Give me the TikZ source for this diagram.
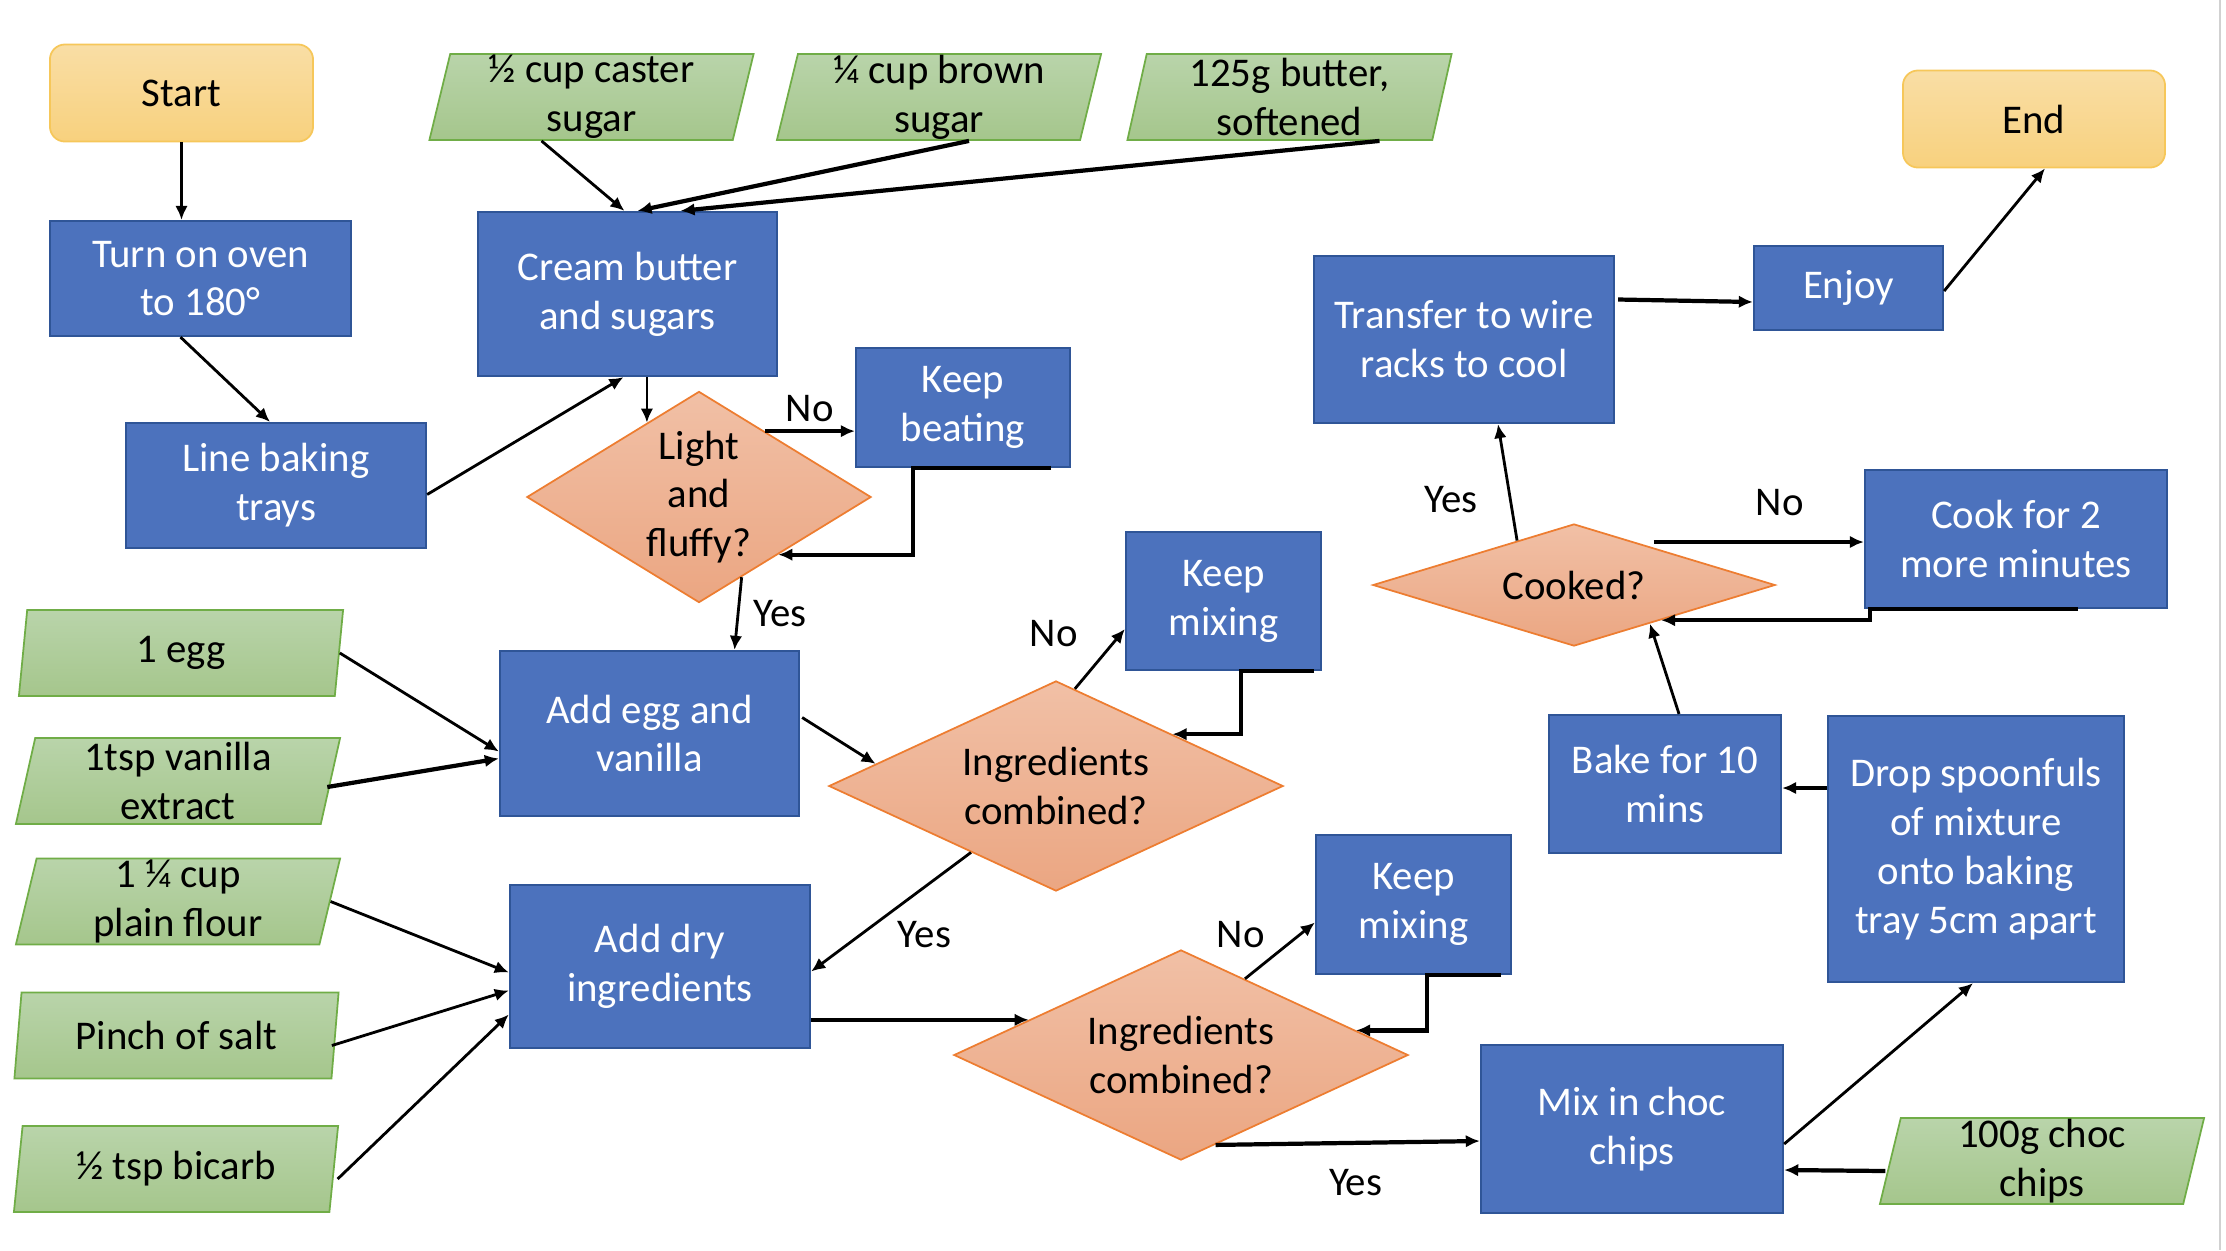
\documentclass[tikz,border=0pt]{standalone}
\usepackage{fontspec}
\setmainfont{Carlito}
\usetikzlibrary{shapes.geometric,arrows.meta,calc}
\definecolor{procfill}{HTML}{4C72BD}
\definecolor{procline}{HTML}{2F5597}
\definecolor{intop}{HTML}{B9D4AA}
\definecolor{inbot}{HTML}{A5C68C}
\definecolor{inline}{HTML}{70AD47}
\definecolor{dectop}{HTML}{F1C0A6}
\definecolor{decbot}{HTML}{EBA682}
\definecolor{decline}{HTML}{ED7D31}
\definecolor{termtop}{HTML}{F9DEA5}
\definecolor{termbot}{HTML}{F8D17E}
\definecolor{termline}{HTML}{F6C75A}
\tikzset{
  txt/.style={font=\fontsize{11.6}{13.9}\selectfont},
  term/.style={txt, rounded corners=0.15cm, draw=termline, line width=0.5pt, top color=termtop, bottom color=termbot, inner sep=0pt},
  proc/.style={txt, draw=procline, line width=0.6pt, fill=procfill, text=white, align=center, inner sep=0pt},
  ingr/.style={txt, trapezium, trapezium left angle=76, trapezium right angle=104, trapezium stretches body, draw=inline, line width=0.5pt, top color=intop, bottom color=inbot, align=center, inner xsep=2pt, inner ysep=0pt, minimum width=3.24cm, minimum height=0.86cm},
  dec/.style={txt, diamond, draw=decline, line width=0.5pt, top color=dectop, bottom color=decbot, align=center, inner sep=0pt},
  arr/.style={-{Latex[length=4pt,width=3.6pt]}, line width=0.8pt},
  arrb/.style={arr, line width=1.2pt},
  lbl/.style={txt, inner sep=2pt}
}
\begin{document}
\begin{tikzpicture}[x=0.01cm,y=-0.01cm]
\useasboundingbox (0,0) rectangle (2226,1250);
\draw[black!18, line width=0.6pt] (2220,0) -- (2220,1250);
% start and inputs
\node[term, minimum width=2.63cm, minimum height=0.97cm] (start) at (181.5,93) {Start};
\node[term, minimum width=2.62cm, minimum height=0.97cm] (endn) at (2034,119) {End};
\node[ingr] (caster) at (591.5,97) {½ cup caster\\sugar};
\node[ingr] (brown) at (939,97) {¼ cup brown\\sugar};
\node[ingr] (butter) at (1289.5,97) {125g butter,\\softened};
\node[proc, minimum width=3.01cm, minimum height=1.15cm] (oven) at (200.5,278.5) {Turn on oven\\to 180°};
\node[proc, minimum width=2.99cm, minimum height=1.64cm] (cream) at (627.5,294) {Cream butter\\and sugars};
\node[proc, minimum width=2.14cm, minimum height=1.19cm] (beat) at (963,407.5) {Keep\\beating};
\node[proc, minimum width=3.00cm, minimum height=1.25cm] (tray) at (276,485.5) {Line baking\\trays};
\node[dec, minimum width=3.44cm, minimum height=2.11cm, aspect=1.63] (fluffy) at (699,497) {Light\\and\\fluffy?};
\node[ingr] (egg) at (181,653) {1 egg};
\node[ingr] (vanilla) at (178,781) {1tsp vanilla\\extract};
\node[ingr] (flour) at (178,901.5) {1 ¼ cup\\plain flour};
\node[ingr] (salt) at (176.5,1035.5) {Pinch of salt};
\node[ingr] (bicarb) at (176,1169) {½ tsp bicarb};
\node[proc, minimum width=2.99cm, minimum height=1.65cm] (addegg) at (649.5,733.5) {Add egg and\\vanilla};
\node[proc, minimum width=3.00cm, minimum height=1.63cm] (adddry) at (660,966.5) {Add dry\\ingredients};
\node[dec, minimum width=4.54cm, minimum height=2.10cm, aspect=2.16] (comb1) at (1056,786) {Ingredients\\combined?};
\node[dec, minimum width=4.54cm, minimum height=2.10cm, aspect=2.16] (comb2) at (1181,1055) {Ingredients\\combined?};
\node[proc, minimum width=1.95cm, minimum height=1.38cm] (mix1) at (1223.5,601) {Keep\\mixing};
\node[proc, minimum width=1.95cm, minimum height=1.39cm] (mix2) at (1413.5,904.5) {Keep\\mixing};
\node[proc, minimum width=3.02cm, minimum height=1.68cm] (choc) at (1632,1129) {Mix in choc\\chips};
\node[ingr] (chips) at (2042,1161) {100g choc\\chips};
\node[proc, minimum width=2.96cm, minimum height=2.66cm] (drop) at (1976,849) {Drop spoonfuls\\of mixture\\onto baking\\tray 5cm apart};
\node[proc, minimum width=2.32cm, minimum height=1.38cm] (bake) at (1665,784) {Bake for 10\\mins};
\node[dec, minimum width=4.02cm, minimum height=1.22cm, aspect=3.3] (cooked) at (1574,585) {Cooked?};
\node[proc, minimum width=3.02cm, minimum height=1.38cm] (cook2) at (2016,539) {Cook for 2\\more minutes};
\node[proc, minimum width=3.00cm, minimum height=1.67cm] (transfer) at (1464,339.5) {Transfer to wire\\racks to cool};
\node[proc, minimum width=1.89cm, minimum height=0.84cm] (enjoy) at (1848.5,288) {Enjoy};
% connectors
\draw[arr] (start.south) -- (start.south |- oven.north);
\draw[arr] ($(oven.south)+(-20,0)$) -- ($(tray.north)+(-6,0)$);
\draw[arr] ($(tray.east)+(0,9)$) -- ($(cream.south)+(-4,0)$);
\draw[arr] ($(caster.south)+(-50,0)$) -- ($(cream.north)+(-3,0)$);
\draw[arrb] ($(brown.south)+(30,0)$) -- ($(cream.north)+(10,0)$);
\draw[arrb] ($(butter.south)+(90,0)$) -- ($(cream.north)+(53,0)$);
\draw[arr] (cream.south -| fluffy.125) -- (fluffy.125);
\draw[arrb] (fluffy.45) -- (fluffy.45 -| beat.west) node[lbl, midway, above] {No};
\draw[arrb] ($(beat.south east)+(-20,0)$) -- ($(beat.south west)+(58,0)$) |- (fluffy.-36);
\draw[arr] (fluffy.-62) -- ($(addegg.north)+(85,0)$) node[lbl, midway, right=2pt] {Yes};
\draw[arr] (egg.east) -- ($(addegg.west)+(0,18)$);
\draw[arrb] ($(vanilla.east)+(-4,6)$) -- ($(addegg.west)+(0,25)$);
\draw[arr] (flour.east) -- ($(adddry.west)+(0,6)$);
\draw[arr] ($(salt.east)+(-4,10)$) -- ($(adddry.west)+(0,24)$);
\draw[arr] ($(bicarb.east)+(3,10)$) -- ($(adddry.west)+(0,48)$);
\draw[arr] ($(addegg.east)+(2,-16)$) -- (comb1.173);
\draw[arr] (comb1.79) -- ($(mix1.west)+(0,28)$) node[lbl, pos=0.93, left=10pt] {No};
\draw[arrb] ($(mix1.south east)+(-8,0)$) -- ($(mix1.south)+(17.5,0)$) |- (comb1.24);
\draw[arr] (comb1.218) -- ($(adddry.east)+(0,5)$) node[lbl, pos=0.51, below right] {Yes};
\draw[arrb] (adddry.east |- comb2.167) -- (comb2.167);
\draw[arr] (comb2.50) -- ($(mix2.west)+(0,18)$) node[lbl, pos=0.4, above left] {No};
\draw[arrb] ($(mix2.south east)+(-11,0)$) -- ($(mix2.south)+(13.5,0)$) |- (comb2.8);
\draw[arrb] (comb2.-69) -- ($(choc.west)+(0,12)$) node[lbl, pos=0.53, below=5pt] {Yes};
\draw[arr] ($(choc.east)+(0,15)$) -- ($(drop.south)+(-3,0)$);
\draw[arrb] ($(chips.west)+(-4,10)$) -- ($(choc.east)+(0,41)$);
\draw[arrb] ($(drop.west)+(0,-61)$) -- ($(bake.east)+(0,4)$);
\draw[arr] ($(bake.north)+(14,0)$) -- (cooked.-27);
\draw[arrb] ($(cook2.south east)+(-90,0)$) -- ($(cook2.south west)+(6,0)$) |- (cooked.-22);
\draw[arrb] ($(cook2.west)+(-210,3)$) -- ($(cook2.west)+(0,3)$) node[lbl, pos=0.6, above=5pt] {No};
\draw[arr] (cooked.142) -- ($(transfer.south)+(34,0)$) node[lbl, pos=0.35, left=7pt] {Yes};
\draw[arrb] ($(transfer.east)+(3,-40)$) -- ($(enjoy.west)+(0,14)$);
\draw[arr] ($(enjoy.east)+(0,3)$) -- ($(endn.south)+(11,0)$);
\end{tikzpicture}
\end{document}
